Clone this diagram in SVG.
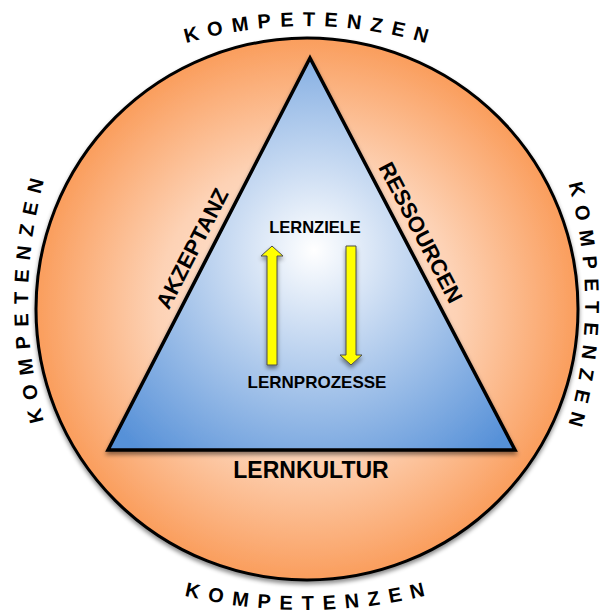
<svg xmlns="http://www.w3.org/2000/svg" width="602" height="613" viewBox="0 0 602 613">
<defs>
<radialGradient id="gOrange" cx="307" cy="309" r="272" gradientUnits="userSpaceOnUse">
<stop offset="0" stop-color="#FFF1E8"/>
<stop offset="0.55" stop-color="#FDD2B5"/>
<stop offset="1" stop-color="#FA9D5C"/>
</radialGradient>
<radialGradient id="gBlue" cx="314" cy="250" r="265" gradientUnits="userSpaceOnUse">
<stop offset="0" stop-color="#FFFFFF"/>
<stop offset="0.3" stop-color="#CCDDF3"/>
<stop offset="1" stop-color="#5791D8"/>
</radialGradient>
<filter id="shadow" x="-10%" y="-10%" width="120%" height="125%">
<feDropShadow dx="0" dy="3" stdDeviation="2" flood-color="#000" flood-opacity="0.45"/>
</filter>
<path id="arcTop" d="M 6,148 A 430 430 0 0 1 606,148"/>
<path id="arcBottom" d="M 5,513.6 A 515 515 0 0 0 605,513.6"/>
<path id="arcLeft" d="M 139.3,601 A 460 460 0 0 1 139.3,1"/>
<path id="arcRight" d="M 466.9,4 A 440 440 0 0 1 466.9,604"/>
</defs>
<style>
.ring{font-family:"Liberation Sans",Arial,sans-serif;font-weight:bold;font-size:20px;letter-spacing:9px;fill:#000}
.lbl{font-family:"Liberation Sans",Arial,sans-serif;font-weight:bold;fill:#000;text-anchor:middle}
.arrow{fill:#FFFF00;stroke:#4d4d4d;stroke-width:1}
</style>
<g id="circle">
<circle cx="307" cy="309" r="271" fill="url(#gOrange)" stroke="#000" stroke-width="3" filter="url(#shadow)"/>
</g>
<g id="triangle">
<polygon points="310,58 108,450 515,450" fill="url(#gBlue)" stroke="#000" stroke-width="3.5" stroke-linejoin="miter" filter="url(#shadow)"/>
</g>
<g id="ring-labels">
<text class="ring" text-anchor="middle"><textPath href="#arcTop" startOffset="336.5">KOMPETENZEN</textPath></text>
<text class="ring" text-anchor="middle"><textPath href="#arcBottom" startOffset="324.7">KOMPETENZEN</textPath></text>
<text class="ring" text-anchor="middle"><textPath href="#arcLeft" startOffset="331.3">KOMPETENZEN</textPath></text>
<text class="ring" text-anchor="middle"><textPath href="#arcRight" startOffset="334.6">KOMPETENZEN</textPath></text>
</g>
<g id="side-labels">
<text class="lbl" font-size="22" transform="translate(199,252) rotate(-62.74)">AKZEPTANZ</text>
<text class="lbl" font-size="22" transform="translate(414,236) rotate(62.39)">RESSOURCEN</text>
<text class="lbl" font-size="23" x="311" y="478">LERNKULTUR</text>
</g>
<g id="lernziele">
<text class="lbl" font-size="16.5" x="315" y="233">LERNZIELE</text>
</g>
<g id="lernprozesse">
<text class="lbl" font-size="17" x="317" y="388">LERNPROZESSE</text>
</g>
<g id="connectors" filter="url(#shadow)">
<polygon class="arrow" points="272,246 283,256 277,256 277,365 267,365 267,256 261,256"/>
<polygon class="arrow" points="346,246 356,246 356,355 362,355 351,365 340,355 346,355"/>
</g>
</svg>
